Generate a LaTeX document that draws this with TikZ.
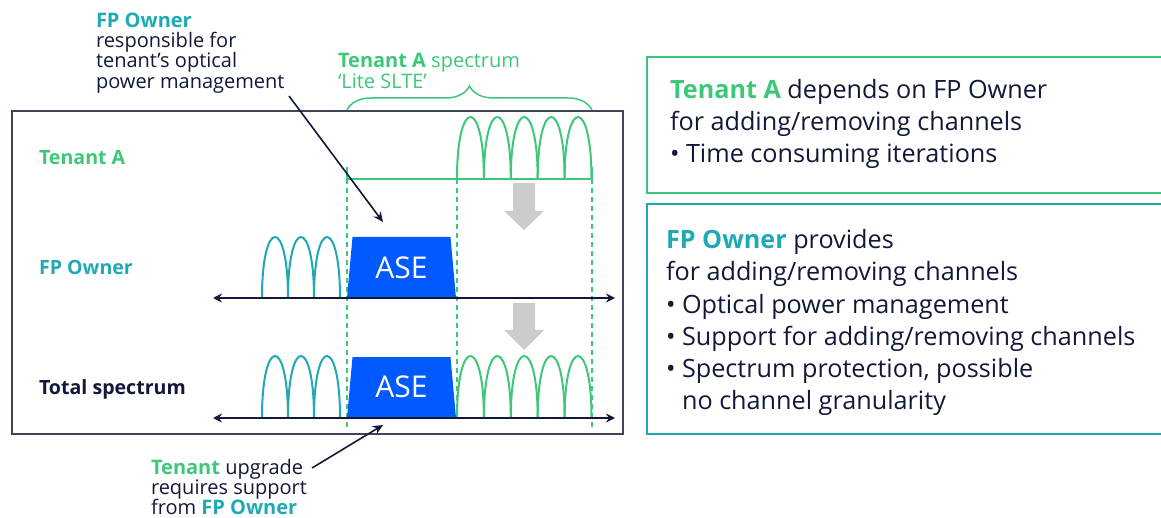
\documentclass[tikz,border=0pt]{standalone}
\usepackage{fontspec}
\setmainfont{Open Sans}
\usetikzlibrary{arrows.meta,decorations.pathreplacing}

\definecolor{tgreen}{HTML}{3CC878}
\definecolor{fpteal}{HTML}{1EAAB4}
\definecolor{ink}{HTML}{121838}
\definecolor{framec}{HTML}{3E4558}
\definecolor{aseblue}{HTML}{005AFF}
\definecolor{greyarrow}{HTML}{CCCCCC}

% a row of channel lobes: x0, width, count, baseline, height, colour
\newcommand\chlobes[6]{%
  \foreach \i in {1,...,#3}{%
    \draw[lobe,#6] ({#1+(\i-1)*#2},#4) .. controls ({#1+(\i-1)*#2},{#4-#5/0.75}) and ({#1+\i*#2},{#4-#5/0.75}) .. ({#1+\i*#2},#4);
  }}

\begin{document}
\begin{tikzpicture}[x=1pt,y=-1pt,
  every node/.style={inner sep=0pt,outer sep=0pt},
  note/.style={anchor=base west,text=ink,font=\fontsize{20}{21}\selectfont},
  boxtxt/.style={anchor=base west,text=ink,font=\fontsize{25.2}{30}\selectfont},
  rowlbl/.style={anchor=base west,font=\bfseries\fontsize{19.6}{21}\selectfont},
  lobe/.style={line width=2pt},
  axis/.style={draw=ink,line width=2pt,{Stealth[length=9pt,width=9pt]}-{Stealth[length=9pt,width=9pt]}},
  guide/.style={draw=tgreen,line width=1.2pt,dash pattern=on 5pt off 4pt},
  pointer/.style={draw=ink,line width=1.6pt,-{Stealth[length=10pt,width=9pt]}},
  ase/.style={fill=aseblue},
  asetxt/.style={text=white,font=\fontsize{30}{30}\selectfont},
  infobox/.style={line width=2pt},
  downarrow/.style={fill=greyarrow},
]
\useasboundingbox (0,0) rectangle (1161,518);
\clip (0,0) rectangle (1161,518);

% spectrum frame
\draw[framec,line width=1.5pt] (12,111) rectangle (623,434);

% row labels
\node[rowlbl,text=tgreen] (lblA) at (39,165) {Tenant A};
\node[rowlbl,text=fpteal] (lblFP) at (39,275) {FP Owner};
\node[rowlbl,text=ink] (lblTot) at (39,394) {Total spectrum};

% guide lines of the tenant band
\draw[guide] (347,179) -- (347,430);
\draw[guide] (457,179) -- (457,418);
\draw[guide] (592,179) -- (592,430);
\draw[tgreen,line width=1.5pt] (347,167) -- (347,179) -- (592,179) -- (592,167);

% tenant A spectrum brace
\draw[tgreen,line width=1.5pt,decorate,decoration={brace,amplitude=24pt}] (347,110) -- (592,110);
\node[note,text=tgreen] (specA1) at (338,68) {\textbf{Tenant A} spectrum};
\node[note,text=tgreen] (specA2) at (338,89) {‘Lite SLTE’};

% tenant A row
\chlobes{457}{26.9}{5}{179}{62}{tgreen}

% FP owner row
\chlobes{262}{26}{3}{298}{61}{fpteal}
\fill[ase] (347,298) -- (352.5,237) -- (450.5,237) -- (456,298) -- cycle;
\node[asetxt] (ase1) at (401.5,268) {ASE};
\coordinate (ax1l) at (213,298);
\coordinate (ax1r) at (615,298);
\draw[axis] (ax1l) -- (ax1r);

% total spectrum row
\chlobes{262}{26}{3}{418}{62}{fpteal}
\chlobes{457}{26.9}{5}{418}{62}{tgreen}
\fill[ase] (347,418) -- (352.5,357) -- (450.5,357) -- (456,418) -- cycle;
\node[asetxt] (ase2) at (401.5,387) {ASE};
\coordinate (ax2l) at (213,418);
\coordinate (ax2r) at (615,418);
\draw[axis] (ax2l) -- (ax2r);

% grey down arrows
\fill[downarrow] (513,183) -- (535,183) -- (535,211) -- (544,211) -- (524,230) -- (504,211) -- (513,211) -- cycle;
\fill[downarrow] (513,303) -- (535,303) -- (535,330) -- (544,330) -- (524,350) -- (504,330) -- (513,330) -- cycle;

% FP owner note
\node[note,text=fpteal,font=\bfseries\fontsize{20}{21}\selectfont] (fp1) at (96,28) {FP Owner};
\node[note] (fp2) at (96,48) {responsible for};
\node[note] (fp3) at (96,68) {tenant’s optical};
\node[note] (fp4) at (96,88.5) {power management};
\coordinate (fpfrom) at (289,96);
\coordinate (fpto) at (383,222);
\draw[pointer] (fpfrom) -- (fpto);

% tenant upgrade note
\node[note] (up1) at (151,474.5) {\textcolor{tgreen}{\bfseries Tenant} upgrade};
\node[note] (up2) at (151,494.5) {requires support};
\node[note] (up3) at (151,514) {from \textcolor{fpteal}{\bfseries FP Owner}};
\coordinate (upfrom) at (312,468);
\coordinate (upto) at (383,425);
\draw[pointer] (upfrom) -- (upto);

% info boxes
\draw[infobox,draw=tgreen] (647,57) rectangle (1175,193);
\node[boxtxt] (b11) at (670,99) {\textcolor{tgreen}{\bfseries Tenant A} depends on FP Owner};
\node[boxtxt] (b12) at (670,131) {for adding/removing channels};
\node[boxtxt] (b13) at (670,163) {• Time consuming iterations};

\draw[infobox,draw=fpteal] (647,204) rectangle (1175,434);
\node[boxtxt] (b21) at (666,249) {\textcolor{fpteal}{\bfseries FP Owner} provides};
\node[boxtxt] (b22) at (666,281) {for adding/removing channels};
\node[boxtxt] (b23) at (666,313) {• Optical power management};
\node[boxtxt] (b24) at (666,345) {• Support for adding/removing channels};
\node[boxtxt] (b25) at (666,377) {• Spectrum protection, possible};
\node[boxtxt] (b26) at (666,409) {\phantom{• }no channel granularity};
\end{tikzpicture}
\end{document}
